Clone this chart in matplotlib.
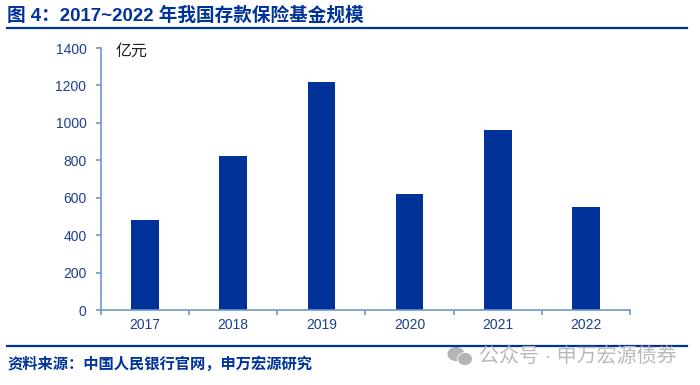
import matplotlib
matplotlib.use('Agg')
import matplotlib.pyplot as plt
from matplotlib.patches import Ellipse

plt.rcParams['font.family'] = ['Liberation Sans', 'Noto Sans CJK SC', 'DejaVu Sans']

years = ['2017', '2018', '2019', '2020', '2021', '2022']
fund_size = [480, 822, 1218, 620, 960, 550]
y_ticks = [0, 200, 400, 600, 800, 1000, 1200, 1400]

W, H = 700, 385
navy = '#003399'
axis_blue = '#7096CC'
label_blue = '#1F3F94'

fig = plt.figure(figsize=(W / 100, H / 100), dpi=100)
ax = fig.add_axes([101 / W, 1 - 310 / H, 529 / W, 262 / H])

ax.bar(range(len(years)), fund_size, width=0.315, color=navy)
ax.set_xlim(-0.5, 5.5)
ax.set_ylim(0, 1400)
ax.set_yticks(y_ticks)
ax.set_xticks([i - 0.5 for i in range(7)], labels=[])
ax.set_xticks(range(6), labels=years, minor=True)
ax.tick_params(axis='both', which='major', color=axis_blue, width=1.2, length=3.5,
               labelsize=10, labelcolor=label_blue, pad=7)
ax.tick_params(axis='x', which='minor', length=0, labelsize=10, labelcolor=label_blue, pad=6)
for s in ['top', 'right']:
    ax.spines[s].set_visible(False)
for s in ['left', 'bottom']:
    ax.spines[s].set_color(axis_blue)
    ax.spines[s].set_linewidth(1.2)

fig.text(116 / W, 1 - 51 / H, '亿元', fontsize=11.5, color='#222222', va='center')

fig.text(7 / W, 1 - 15 / H, '图 4\uff1a2017~2022 年我国存款保险基金规模', fontsize=13.4,
         fontweight='bold', color=navy, va='center')
fig.add_artist(plt.Line2D([7 / W, 687 / W], [1 - 28 / H] * 2, color=navy, lw=1.6))
fig.add_artist(plt.Line2D([7 / W, 687 / W], [1 - 345.5 / H] * 2, color=navy, lw=1.6))
fig.text(7 / W, 1 - 364 / H, '资料来源\uff1a中国人民银行官网\uff0c申万宏源研究', fontsize=11,
         fontweight='bold', color=navy, va='center')

# watermark
for cx, cy, w, h in [(456, 354, 18, 15), (465, 359, 15, 13)]:
    fig.add_artist(Ellipse((cx / W, 1 - cy / H), w / W, h / H, color='#B4B4B4', ec='white', lw=0.6))
fig.text(479 / W, 1 - 356 / H, '公众号 · 申万宏源债券', fontsize=14.4, color='#B9B9B9', va='center')

fig.savefig('out.png', dpi=100)
